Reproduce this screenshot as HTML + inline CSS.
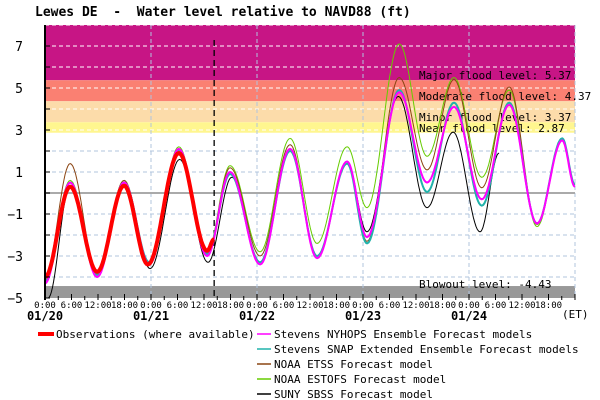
<!DOCTYPE html>
<html><head><meta charset="utf-8"><style>
body{margin:0;background:#fff;width:600px;height:400px;overflow:hidden}
svg{display:block}
text{font-family:"DejaVu Sans Mono","Liberation Mono",monospace;white-space:pre}
</style></head><body>
<svg id="chart" width="600" height="400" xmlns="http://www.w3.org/2000/svg">
<text x="35" y="16" font-size="13" font-weight="bold" xml:space="preserve">Lewes DE  -  Water level relative to NAVD88 (ft)</text>
<g id="bands"></g>
<g id="grid"></g>
<g id="series"></g>
<g id="axes"></g>
<g id="legend"></g>
</svg>
<script>
const yTicks=[7,5,3,1,-1,-3,-5];
const dayLabels=["01/20","01/21","01/22","01/23","01/24"];
const hourLabels=["0:00","6:00","12:00","18:00"];
const floodLevels=[5.37,4.37,3.37,2.87];
const floodNames=["Major flood level: 5.37","Moderate flood level: 4.37","Minor flood level: 3.37","Near flood level: 2.87"];
const blowout=-4.43;
const nowHour=38.3;
const tModel=[0,5.7,11.8,17.9,23.6,30.3,36.7,41.9,48.7,55.5,61.6,68.4,72.9,80.2,86.5,92.6,98.9,105.1,111.4,117.1,120];
const nyhops=[-4.3,0.5,-4.0,0.5,-3.4,2.1,-3.0,1.0,-3.4,2.1,-3.1,1.5,-2.1,4.8,0.5,4.1,-0.3,4.2,-1.45,2.5,0.3];
const snap=[-4.2,0.5,-3.9,0.5,-3.3,2.0,-2.9,0.9,-3.3,2.0,-3.0,1.4,-2.4,4.9,0.05,4.3,-0.6,4.3,-1.45,2.6,0.4];
const etss=[-4.0,1.4,-3.8,0.6,-3.3,2.1,-2.9,1.2,-3.0,2.3,-3.0,1.5,-2.3,5.5,1.1,5.4,0.25,5.05,-1.5,2.6,0.4];
const estofs=[-4.0,0.6,-3.8,0.6,-3.3,2.2,-2.8,1.3,-2.8,2.6,-2.4,2.2,-0.7,7.1,1.75,5.5,0.75,4.9,-1.6,2.6,0.4];
const tSbss=[0.7,5.7,11.8,17.9,23.8,30.5,36.9,42.3,48.7,55.5,61.6,68.4,72.9,80.0,86.5,92.4,98.5,102.8];
const sbss=[-5.0,0.35,-3.9,0.4,-3.6,1.6,-3.3,0.75,-3.4,2.0,-3.1,1.5,-1.85,4.6,-0.7,2.9,-1.85,1.9];
const tObs=[0,5.7,11.8,17.9,23.3,30.3,36.7,38.3];
const obs=[-4.0,0.3,-3.75,0.35,-3.4,1.9,-2.75,-2.2];

const NS="http://www.w3.org/2000/svg";
const X0=45,X1=575,YT=25,YB=300;
const xS=h=>X0+h*106/24;
const yS=v=>193-21*v;
function mk(tag,attrs,parent){const e=document.createElementNS(NS,tag);for(const k in attrs)e.setAttribute(k,attrs[k]);parent.appendChild(e);return e;}
const bands=document.getElementById('bands'),grid=document.getElementById('grid'),ser=document.getElementById('series'),axes=document.getElementById('axes'),leg=document.getElementById('legend');
const bandTops=[8,floodLevels[0],floodLevels[1],floodLevels[2]];
const bandCols=["#c71585","#fa8072","#fcdcaa","#fff68f"];
for(let i=0;i<4;i++){
  const r=mk('rect',{x:X0,y:yS(bandTops[i]),width:X1-X0,height:yS(floodLevels[i])-yS(bandTops[i]),fill:bandCols[i]},bands);
  
  
}
const bo=mk('rect',{x:X0,y:yS(blowout),width:X1-X0,height:YB-yS(blowout)-2,fill:"#999"},bands);


for(let v=-4;v<=8;v++){
  const y=yS(v);
  if(y<YT)continue;
  const l=mk('line',{x1:X0,x2:X1,y1:y,y2:y,stroke:(v>=3?"#ffffff":"#b0c4de"),"stroke-dasharray":"4,3"},grid);
  
  
}
for(let d=1;d<=5;d++){
  const x=xS(d*24);
  const l=mk('line',{x1:x,x2:x,y1:YT,y2:YB,stroke:"#b0c4de","stroke-dasharray":"4,3"},grid);
  
  
}
const z=mk('line',{x1:X0,x2:X1,y1:yS(0),y2:yS(0),stroke:"#aaa","stroke-width":2},grid);


const nl=mk('line',{x1:xS(nowHour),x2:xS(nowHour),y1:40,y2:YB,stroke:"#000","stroke-dasharray":"6,4","stroke-width":1.3},grid);


const lblY=[75,96,117,128];
for(let i=0;i<4;i++){
  const t=mk('text',{x:419,y:lblY[i]+4,"font-size":11},grid);
  t.textContent=floodNames[i];
  
  
}
const bt=mk('text',{x:419,y:288,"font-size":11},grid);
bt.textContent="Blowout level: "+blowout.toFixed(2);


function path(ts,vs){
  let d="";
  for(let i=0;i<ts.length-1;i++){
    const n=20;
    for(let k=0;k<=n;k++){
      if(i>0&&k==0)continue;
      const f=k/n,w=(1-Math.cos(Math.PI*f))/2;
      const h=ts[i]+(ts[i+1]-ts[i])*f,v=vs[i]+(vs[i+1]-vs[i])*w;
      d+=(d?"L":"M")+xS(h).toFixed(1)+","+yS(Math.max(-5,v)).toFixed(1);
    }
  }
  return d;
}
const defs=[[tModel,estofs,"#66cc00",1,'estofs-line'],[tModel,etss,"#8b4513",1,'etss-line'],[tSbss,sbss,"#000",1,'sbss-line'],[tModel,snap,"#20b2aa",2,'snap-line'],[tModel,nyhops,"#ff00ff",2,'nyhops-line'],[tObs,obs,"#ff0000",4,'observations-line']];
for(const s of defs){
  const p=mk('path',{d:path(s[0],s[1]),fill:"none",stroke:s[2],"stroke-width":s[3]},ser);
  
  
}
mk('line',{x1:X0,x2:X0,y1:YT,y2:YB,stroke:"#000","stroke-width":2},axes);
for(let v=-5;v<=7;v++){
  const y=yS(v);
  mk('line',{x1:X0,x2:X0+5,y1:y,y2:y,stroke:"#000"},axes);
}
for(const v of yTicks){
  const t=mk('text',{x:23,y:yS(v)+5,"font-size":13,"text-anchor":"end"},axes);
  t.textContent=v<0?"\u2212"+(-v):String(v);
  
  
}
for(let h=0;h<=120;h+=3){
  const x=xS(h);
  mk('line',{x1:x,x2:x,y1:YB,y2:YB-(h%6==0?6:4),stroke:"#000"},axes);
}
for(let d=0;d<5;d++){
  for(let j=0;j<4;j++){
    const t=mk('text',{x:xS(d*24+j*6),y:308,"font-size":9,"text-anchor":"middle"},axes);
    t.textContent=hourLabels[j];
    
    
  }
  const t=mk('text',{x:xS(d*24),y:320,"font-size":12,"font-weight":"bold","text-anchor":"middle"},axes);
  t.textContent=dayLabels[d];
  
  
}
const et=mk('text',{x:562,y:318,"font-size":11},axes);
et.textContent="(ET)";


const lr=mk('rect',{x:38,y:332,width:16,height:4,fill:"#ff0000"},leg);


const lt=mk('text',{x:56,y:338,"font-size":11},leg);
lt.textContent="Observations (where available)";


const legNames=["Stevens NYHOPS Ensemble Forecast models","Stevens SNAP Extended Ensemble Forecast models","NOAA ETSS Forecast model","NOAA ESTOFS Forecast model","SUNY SBSS Forecast model"];
const legCols=["#ff00ff","#20b2aa","#8b4513","#66cc00","#000"];
for(let i=0;i<5;i++){
  const y=334+i*15;
  const l=mk('line',{x1:257,x2:271,y1:y,y2:y,stroke:legCols[i],"stroke-width":1.5},leg);
  
  
  const t=mk('text',{x:274,y:y+4,"font-size":11},leg);
  t.textContent=legNames[i];
  
  
}
</script>
</body></html>
